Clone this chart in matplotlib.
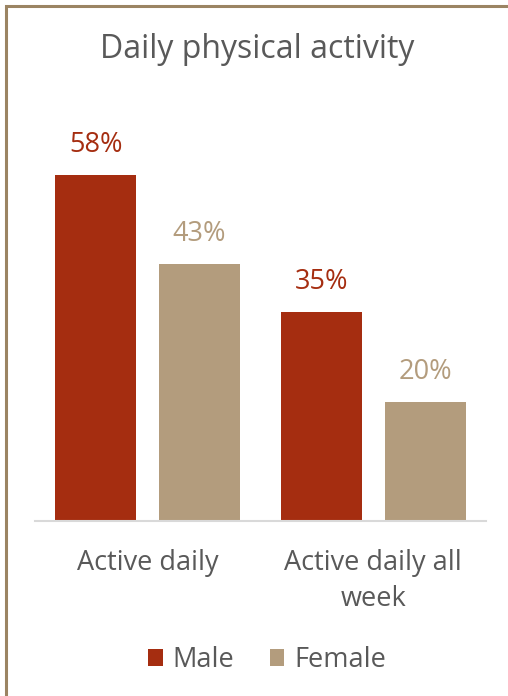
import matplotlib
matplotlib.use("Agg")
import matplotlib.pyplot as plt
from matplotlib.patches import Rectangle
import numpy as np

categories = ["Active daily", "Active daily all\nweek"]
series_names = ["Male", "Female"]
male = [58, 35]
female = [43, 20]
title = "Daily physical activity"

c_male = "#A52D10"
c_female = "#B39C7D"
c_text = "#595959"

plt.rcParams['font.family'] = ['Open Sans', 'DejaVu Sans']

W, H = 508, 696
fig = plt.figure(figsize=(W/100, H/100), dpi=100)
fig.patch.set_facecolor("white")

# border (only top/left visible in the reference)
fig.add_artist(Rectangle((6/W, -0.1), 1.2, (H-6)/H + 0.1, transform=fig.transFigure,
                         fill=False, edgecolor="#9B8463", linewidth=2.2))

ax_left, ax_right = 35/W, 486/W
ax_bottom = (H-521)/H
px_per = 5.97
ymax = 70
ax_h = ymax*px_per/H
ax = fig.add_axes([ax_left, ax_bottom, ax_right-ax_left, ax_h])

x = np.arange(len(categories))
bw = 0.36
off = 0.23
b1 = ax.bar(x-off, male, bw, color=c_male, label=series_names[0])
b2 = ax.bar(x+off, female, bw, color=c_female, label=series_names[1])

for rects, vals, col in [(b1, male, c_male), (b2, female, c_female)]:
    for r, v in zip(rects, vals):
        ax.annotate(f"{v}%", (r.get_x()+r.get_width()/2, v), xytext=(0, 21.6),
                    textcoords="offset points", ha="center", va="center",
                    color=col, fontsize=19.5)

ax.set_xlim(-0.5, 1.5)
ax.set_ylim(0, ymax)
for s in ["top", "right", "left"]:
    ax.spines[s].set_visible(False)
ax.spines["bottom"].set_color("#D9D9D9")
ax.spines["bottom"].set_linewidth(1.5)
ax.set_yticks([])
ax.set_xticks(x)
ax.set_xticklabels(categories, fontsize=19.5, color=c_text, linespacing=1.4)
ax.tick_params(axis="x", length=0, pad=20)

fig.text(257/W, 1-49/H, title, ha="center", va="center", fontsize=23, color=c_text)

leg = fig.legend(handles=[b1, b2], labels=series_names, loc="center",
                 bbox_to_anchor=(267/W, 1-660/H), ncol=2, frameon=False,
                 fontsize=19.5, handlelength=0.55, handleheight=0.55,
                 handletextpad=0.35, columnspacing=1.3)
for t in leg.get_texts():
    t.set_color(c_text)

fig.savefig("out.png", dpi=100, facecolor="white")
